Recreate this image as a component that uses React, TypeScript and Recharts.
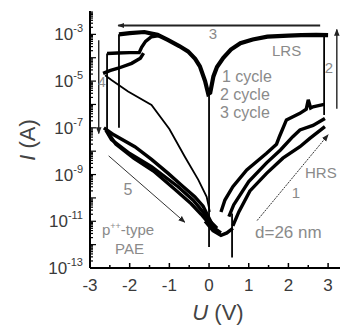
import { LineChart, Line, XAxis, YAxis } from 'recharts';

// all currents are log10(I / A)
const lrsCycle1 = [
  { u: -2.27, logI: -3.0 }, { u: -2.0, logI: -2.95 }, { u: -1.63, logI: -2.9 }, { u: -1.3, logI: -3.02 },
  { u: -1.04, logI: -3.24 }, { u: -0.75, logI: -3.5 }, { u: -0.53, logI: -3.73 }, { u: -0.35, logI: -4.05 },
  { u: -0.23, logI: -4.37 }, { u: -0.1, logI: -5.0 }, { u: -0.02, logI: -5.55 }, { u: 0.03, logI: -5.5 },
  { u: 0.11, logI: -4.8 }, { u: 0.2, logI: -4.4 }, { u: 0.36, logI: -4.0 }, { u: 0.55, logI: -3.65 },
  { u: 0.79, logI: -3.38 }, { u: 1.1, logI: -3.22 }, { u: 1.47, logI: -3.1 }, { u: 2.0, logI: -3.05 },
  { u: 2.32, logI: -3.03 }, { u: 2.7, logI: -3.02 }, { u: 3.0, logI: -3.03 },
];
const lrsCycle2 = [
  { u: -2.57, logI: -3.82 }, { u: -2.3, logI: -3.8 }, { u: -2.0, logI: -3.78 }, { u: -1.76, logI: -3.78 },
  { u: -1.7, logI: -3.55 }, { u: -1.6, logI: -3.3 }, { u: -1.45, logI: -3.1 }, { u: -1.25, logI: -3.05 },
];
const lrsCycle3 = [
  { u: -2.67, logI: -4.67 }, { u: -2.5, logI: -4.55 }, { u: -2.29, logI: -4.45 }, { u: -1.95, logI: -4.24 },
  { u: -1.73, logI: -4.02 }, { u: -1.65, logI: -3.8 },
];
const firstNegSweep = [
  { u: -2.62, logI: -4.75 }, { u: -2.46, logI: -4.95 }, { u: -2.04, logI: -5.45 }, { u: -1.45, logI: -6.02 },
  { u: -1.0, logI: -7.05 }, { u: -0.61, logI: -8.24 }, { u: -0.27, logI: -9.23 }, { u: -0.06, logI: -9.95 },
  { u: 0.02, logI: -10.6 },
];
const resetA = [{ u: -2.27, logI: -3.0 }, { u: -2.27, logI: -7.0 }];
const resetB = [{ u: -2.57, logI: -3.82 }, { u: -2.57, logI: -7.05 }];
const setJump = [{ u: 2.9, logI: -6.45 }, { u: 2.9, logI: -3.03 }];
const zeroDrop = [{ u: 0.0, logI: -5.55 }, { u: 0.0, logI: -12.1 }];
const offsetDrop = [{ u: 0.58, logI: -10.67 }, { u: 0.58, logI: -12.55 }];

const hrsNegA = [
  { u: -2.65, logI: -7.0 }, { u: -2.4, logI: -7.3 }, { u: -1.87, logI: -7.81 }, { u: -1.45, logI: -8.35 },
  { u: -1.03, logI: -8.95 }, { u: -0.7, logI: -9.45 }, { u: -0.36, logI: -9.95 }, { u: -0.15, logI: -10.35 },
  { u: -0.02, logI: -10.8 }, { u: 0.1, logI: -11.2 },
];
const hrsNegB = [
  { u: -2.6, logI: -7.1 }, { u: -2.46, logI: -7.5 }, { u: -2.0, logI: -8.1 }, { u: -1.45, logI: -8.66 },
  { u: -0.78, logI: -9.52 }, { u: -0.4, logI: -10.1 }, { u: -0.19, logI: -10.52 }, { u: 0.0, logI: -10.95 },
  { u: 0.2, logI: -11.3 },
];
const hrsNegC = [
  { u: -2.55, logI: -7.2 }, { u: -2.35, logI: -7.7 }, { u: -1.9, logI: -8.3 }, { u: -1.4, logI: -8.85 },
  { u: -0.85, logI: -9.65 }, { u: -0.45, logI: -10.25 }, { u: -0.2, logI: -10.7 }, { u: 0.05, logI: -11.2 },
  { u: 0.3, logI: -11.5 },
];
const valley = [
  { u: -0.1, logI: -11.0 }, { u: 0.1, logI: -11.4 }, { u: 0.3, logI: -11.6 }, { u: 0.45, logI: -11.5 },
  { u: 0.6, logI: -11.3 },
];
const hrsPosA = [
  { u: 0.3, logI: -10.6 }, { u: 0.4, logI: -10.09 }, { u: 0.6, logI: -9.52 }, { u: 0.95, logI: -8.8 },
  { u: 1.45, logI: -8.09 }, { u: 1.7, logI: -7.7 }, { u: 1.78, logI: -7.35 }, { u: 1.95, logI: -6.66 },
  { u: 2.29, logI: -6.38 }, { u: 2.45, logI: -6.2 }, { u: 2.5, logI: -5.8 }, { u: 2.56, logI: -6.15 },
  { u: 2.62, logI: -6.1 }, { u: 2.9, logI: -6.0 },
];
const hrsPosB = [
  { u: 0.5, logI: -10.8 }, { u: 0.62, logI: -10.3 }, { u: 1.0, logI: -9.3 }, { u: 1.45, logI: -8.5 },
  { u: 1.8, logI: -7.95 }, { u: 2.11, logI: -7.38 }, { u: 2.29, logI: -7.09 }, { u: 2.62, logI: -6.9 },
  { u: 2.92, logI: -6.6 },
];
const hrsPosC = [
  { u: 0.6, logI: -11.2 }, { u: 0.75, logI: -10.6 }, { u: 1.03, logI: -9.7 }, { u: 1.45, logI: -8.95 },
  { u: 1.86, logI: -8.3 }, { u: 2.29, logI: -7.81 }, { u: 2.54, logI: -7.45 }, { u: 2.92, logI: -6.95 },
];

// sweep-direction arrows
const arrow1 = [{ u: 1.21, logI: -10.97 }, { u: 3.0, logI: -7.3 }];
const arrow2 = [{ u: 3.22, logI: -6.18 }, { u: 3.22, logI: -2.79 }];
const arrow3 = [{ u: 2.8, logI: -2.62 }, { u: -2.29, logI: -2.62 }];
const arrow4 = [{ u: -2.78, logI: -3.25 }, { u: -2.78, logI: -7.24 }];
const arrow5 = [{ u: -2.53, logI: -8.2 }, { u: -0.61, logI: -11.04 }];

const xTicks = [-3, -2.5, -2, -1.5, -1, -0.5, 0, 0.5, 1, 1.5, 2, 2.5, 3];
const decades = [-13, -12, -11, -10, -9, -8, -7, -6, -5, -4, -3];
const labelledDecades = [-13, -11, -9, -7, -5, -3];
const yTicks = decades.flatMap((d) =>
  [1, 2, 3, 4, 5, 6, 7, 8, 9].map((k) => d + Math.log10(k)).filter((v) => v <= -2.0)
);

const FONT = '"Liberation Sans", Arial, Helvetica, sans-serif';
const NOTE = '#8a8a8a';

function BottomTick({ x, y, payload }: any) {
  const v = payload.value;
  const major = Number.isInteger(v);
  return (
    <g>
      <line x1={x} y1={y} x2={x} y2={y - (major ? 5 : 3)} stroke="#000" strokeWidth={1.5} />
      {major && (
        <text x={x} y={y + 23} textAnchor="middle" fontSize={17} fill="#3a3a3a" fontFamily={FONT}>
          {v}
        </text>
      )}
    </g>
  );
}

function TopTick({ x, y, payload }: any) {
  const major = Number.isInteger(payload.value);
  return <line x1={x} y1={y} x2={x} y2={y + (major ? 5 : 3)} stroke="#000" strokeWidth={1.5} />;
}

function LeftTick({ x, y, payload }: any) {
  const v = payload.value;
  const rounded = Math.round(v);
  const decade = Math.abs(v - rounded) < 1e-6;
  const labelled = decade && labelledDecades.includes(rounded);
  return (
    <g>
      <line x1={x} y1={y} x2={x + (decade ? 6 : 3)} y2={y} stroke="#000" strokeWidth={1.2} />
      {labelled && (
        <text x={x - 7} y={y + 6} textAnchor="end" fontSize={17} fill="#3a3a3a" fontFamily={FONT}>
          10
          <tspan dy={-8} fontSize={11}>{rounded}</tspan>
        </text>
      )}
    </g>
  );
}

const notes: { text: React.ReactNode; left: number; top: number; size: number; center?: boolean }[] = [
  { text: '3', left: 213, top: 33, size: 15, center: true },
  { text: 'LRS', left: 272, top: 50, size: 15 },
  { text: '2', left: 329, top: 67, size: 15, center: true },
  { text: '4', left: 102, top: 82, size: 14, center: true },
  { text: '1 cycle', left: 222, top: 77, size: 16 },
  { text: '2 cycle', left: 220, top: 95, size: 16 },
  { text: '3 cycle', left: 220, top: 113, size: 16 },
  { text: 'HRS', left: 305, top: 172, size: 15 },
  { text: '1', left: 296, top: 192, size: 15, center: true },
  { text: '5', left: 128, top: 190, size: 16, center: true },
  {
    text: (
      <span>
        p<span style={{ fontSize: 9, verticalAlign: 6 }}>++</span>-type
      </span>
    ),
    left: 102,
    top: 229,
    size: 15,
  },
  { text: 'PAE', left: 115, top: 248, size: 15 },
  { text: 'd=26 nm', left: 255, top: 232, size: 17 },
];

export default function App() {
  const thick = { stroke: '#000', strokeWidth: 3.4, dot: false, isAnimationActive: false, type: 'linear' as const };
  const jump = { stroke: '#000', strokeWidth: 1.8, dot: false, isAnimationActive: false, type: 'linear' as const };
  const measured = [lrsCycle2, lrsCycle3, hrsNegA, hrsNegB, hrsNegC, valley, hrsPosA, hrsPosB, hrsPosC];
  const steps = [resetA, resetB, setJump, zeroDrop, offsetDrop, firstNegSweep];

  return (
    <div style={{ position: 'absolute', left: 0, top: 0, width: 340, height: 329, background: '#fff', fontFamily: FONT, overflow: 'hidden' }}>
      <svg width={0} height={0} style={{ position: 'absolute' }}>
        <defs>
          <marker id="ah" viewBox="0 0 10 10" refX="9" refY="5" markerWidth="7" markerHeight="7" markerUnits="userSpaceOnUse" orient="auto">
            <path d="M0,1 L10,5 L0,9 z" fill="#222" />
          </marker>
        </defs>
      </svg>
      <LineChart width={340} height={329} margin={{ top: 11, right: 0, bottom: 0, left: 0 }}>
        <XAxis
          xAxisId="main"
          dataKey="u"
          type="number"
          domain={[-3, 3.3]}
          ticks={xTicks}
          interval={0}
          height={61}
          tickSize={0}
          tickMargin={0}
          tick={<BottomTick />}
          axisLine={{ stroke: '#000', strokeWidth: 2 }}
        />
        <XAxis
          xAxisId="top"
          orientation="top"
          dataKey="u"
          type="number"
          domain={[-3, 3.3]}
          ticks={xTicks}
          interval={0}
          height={0}
          tickSize={0}
          tickMargin={0}
          tick={<TopTick />}
          axisLine={{ stroke: '#000', strokeWidth: 2 }}
        />
        <YAxis
          yAxisId="main"
          dataKey="logI"
          type="number"
          domain={[-13, -2.0]}
          ticks={yTicks}
          interval={0}
          width={90}
          tickSize={0}
          tickMargin={0}
          tick={<LeftTick />}
          axisLine={{ stroke: '#000', strokeWidth: 2 }}
        />
        <Line xAxisId="main" yAxisId="main" data={lrsCycle1} dataKey="logI" {...thick} strokeWidth={4.2} />
        {measured.map((d, i) => (
          <Line key={`m${i}`} xAxisId="main" yAxisId="main" data={d} dataKey="logI" {...thick} />
        ))}
        {steps.map((d, i) => (
          <Line key={`s${i}`} xAxisId="main" yAxisId="main" data={d} dataKey="logI" {...jump} />
        ))}
        <Line xAxisId="main" yAxisId="main" data={arrow3} dataKey="logI" stroke="#222" strokeWidth={2} dot={false} isAnimationActive={false} markerEnd="url(#ah)" />
        <Line xAxisId="main" yAxisId="main" data={arrow2} dataKey="logI" stroke="#222" strokeWidth={1.4} dot={false} isAnimationActive={false} markerEnd="url(#ah)" />
        <Line xAxisId="main" yAxisId="main" data={arrow4} dataKey="logI" stroke="#222" strokeWidth={1.4} dot={false} isAnimationActive={false} markerEnd="url(#ah)" />
        <Line xAxisId="main" yAxisId="main" data={arrow5} dataKey="logI" stroke="#333" strokeWidth={1} dot={false} isAnimationActive={false} markerEnd="url(#ah)" />
        <Line xAxisId="main" yAxisId="main" data={arrow1} dataKey="logI" stroke="#333" strokeWidth={1} strokeDasharray="2 1" dot={false} isAnimationActive={false} markerEnd="url(#ah)" />
      </LineChart>
      {notes.map((n, i) => (
        <div
          key={i}
          style={{
            position: 'absolute',
            left: n.left,
            top: n.top,
            fontSize: n.size,
            color: NOTE,
            lineHeight: 1,
            whiteSpace: 'nowrap',
            transform: n.center ? 'translate(-50%, -50%)' : 'translateY(-50%)',
          }}
        >
          {n.text}
        </div>
      ))}
      <div style={{ position: 'absolute', left: 218, top: 313, fontSize: 22, color: '#444', lineHeight: 1, whiteSpace: 'nowrap', transform: 'translate(-50%, -50%)' }}>
        <i>U</i> (V)
      </div>
      <div style={{ position: 'absolute', left: 28, top: 140, fontSize: 22, color: '#444', lineHeight: 1, whiteSpace: 'nowrap', transform: 'translate(-50%, -50%) rotate(-90deg)' }}>
        <i>I</i> (A)
      </div>
    </div>
  );
}
